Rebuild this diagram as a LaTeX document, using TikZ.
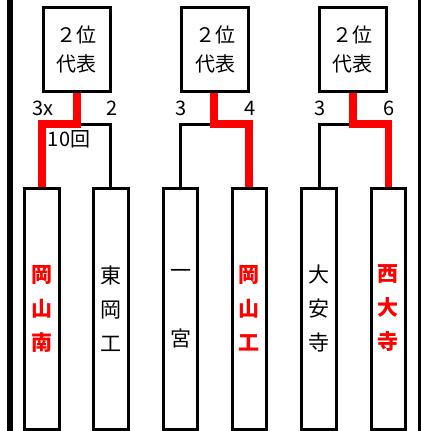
\documentclass[tikz,border=0pt]{standalone}
\usepackage{fontspec}
\setmainfont{Noto Sans CJK JP}
\begin{document}
\begin{tikzpicture}[x=1pt,y=-1pt,
  seedbox/.style={draw=black,line width=3pt,minimum width=67pt,minimum height=84.6pt,inner sep=0pt,align=center,font=\fontsize{20}{29}\selectfont},
  teambox/.style={draw=black,line width=3pt,minimum width=34.4pt,minimum height=241pt,inner sep=0pt,align=center,font=\fontsize{21}{34}\selectfont},
  winner/.style={text=red,font=\fontsize{21}{34}\selectfont\bfseries},
  blk/.style={draw=black,line width=3pt},
  redl/.style={draw=red,line width=7.5pt},
  lbl/.style={font=\fontsize{20}{24}\selectfont,inner sep=0pt}]
\useasboundingbox (0,0) rectangle (421,431);
\fill[white] (0,0) rectangle (421,431);
% side lines
\coordinate (lt) at (10.3,0); \coordinate (lb) at (10.3,431);
\coordinate (rt) at (419.7,0); \coordinate (rb) at (419.7,431);
\draw[line width=6pt] (lt) -- (lb);
\draw[line width=2.7pt] (rt) -- (rb);
% seed boxes
\node[seedbox] (b1) at (76.7,49.5) {２位\\代表};
\node[seedbox] (b2) at (215,49.5) {２位\\代表};
\node[seedbox] (b3) at (352.7,49.5) {２位\\代表};
% team boxes
\node[teambox,winner] (p1) at (42,308.5) {岡\\山\\南};
\node[teambox] (p2) at (110.8,308.5) {東\\岡\\工};
\node[teambox] (p3) at (180.7,308.5) {一\\\\宮};
\node[teambox,winner] (p4) at (249.2,308.5) {岡\\山\\工};
\node[teambox] (p5) at (319,308.5) {大\\安\\寺};
\node[teambox,winner] (p6) at (388.3,308.5) {西\\大\\寺};
% junctions
\coordinate (j1) at (77,124);
\coordinate (j2) at (214,124);
\coordinate (j3) at (353,124);
% black connectors
\draw[blk] (j1) -| (p2.north);
\draw[blk] (j2) -| (p3.north);
\draw[blk] (j3) -| (p5.north);
% red connectors
\draw[redl] (b1.south -| j1) -- (j1) -| (p1.north);
\draw[redl] (b2.south -| j2) -- (j2) -| (p4.north);
\draw[redl] (b3.south -| j3) -- (j3) -| (p6.north);
% scores
\node[lbl] (s1) at (43,108) {3x};
\node[lbl] (s2) at (112,108) {2};
\node[lbl] (s3) at (69,139) {10回};
\node[lbl] (s4) at (181,108) {3};
\node[lbl] (s5) at (250,108) {4};
\node[lbl] (s6) at (320,108) {3};
\node[lbl] (s7) at (389,108) {6};
\end{tikzpicture}
\end{document}
